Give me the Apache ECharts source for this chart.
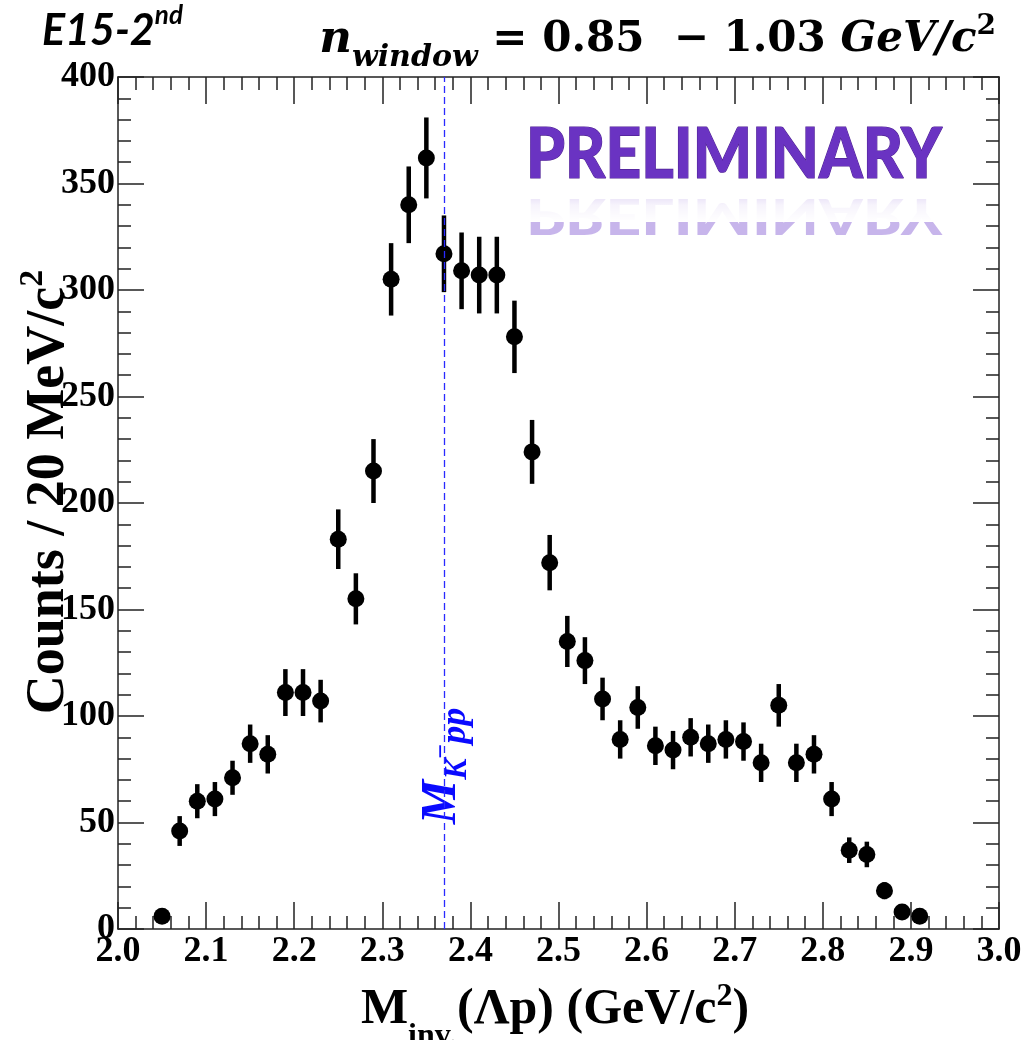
<!DOCTYPE html>
<html>
<head>
<meta charset="utf-8">
<script src="https://cdn.jsdelivr.net/npm/echarts@6/dist/echarts.min.js"></script>
<style>
html,body{margin:0;padding:0;background:#fff;}
#chart{width:1025px;height:1040px;}
</style>
</head>
<body>
<div id="chart"></div>
<script>
// ---- data ----
const binCenters = [2.05, 2.07, 2.09, 2.11, 2.13, 2.15, 2.17, 2.19, 2.21, 2.23,
                    2.25, 2.27, 2.29, 2.31, 2.33, 2.35, 2.37, 2.39, 2.41, 2.43,
                    2.45, 2.47, 2.49, 2.51, 2.53, 2.55, 2.57, 2.59, 2.61, 2.63,
                    2.65, 2.67, 2.69, 2.71, 2.73, 2.75, 2.77, 2.79, 2.81, 2.83,
                    2.85, 2.87, 2.89, 2.91];
const counts = [6, 46, 60, 61, 71, 87, 82, 111, 111, 107,
                183, 155, 215, 305, 340, 362, 317, 309, 307, 307,
                278, 224, 172, 135, 126, 108, 89, 104, 86, 84,
                90, 87, 89, 88, 78, 105, 78, 82, 61, 37,
                35, 18, 8, 6];
const errors = [2.5, 7, 8, 8, 8, 9, 9, 11, 11, 10,
                14, 12, 15, 17, 18, 19, 18, 18, 18, 18,
                17, 15, 13, 12, 11, 10, 9, 10, 9, 9,
                9, 9, 9, 9, 9, 10, 9, 9, 8, 6,
                6, 4, 3, 2.5];
const kppMass = 2.37;
const xRange = [2.0, 3.0];
const yRange = [0, 400];

const points = binCenters.map((x, i) => [x, counts[i]]);
const errData = binCenters.map((x, i) => [x, counts[i], errors[i]]);

const chart = echarts.init(document.getElementById('chart'), null, {renderer: 'canvas'});

const tickFont = {fontFamily: 'Liberation Serif', fontWeight: 'bold', fontSize: 36, color: '#000'};
const lineCol = '#222';

function xAx(pos, showLabel) {
  return {
    type: 'value', position: pos, min: xRange[0], max: xRange[1], interval: 0.1,
    axisLine: {show: true, onZero: false, lineStyle: {color: lineCol, width: 1.5}},
    axisTick: {show: true, inside: true, length: 27, lineStyle: {color: lineCol, width: 1.5}},
    minorTick: {show: true, splitNumber: 5, length: 13, lineStyle: {color: lineCol, width: 1.5}},
    splitLine: {show: false},
    axisLabel: showLabel ? Object.assign({show: true, margin: 5, formatter: v => v.toFixed(1)}, tickFont) : {show: false}
  };
}
function yAx(pos, showLabel) {
  return {
    type: 'value', position: pos, min: yRange[0], max: yRange[1], interval: 50,
    axisLine: {show: true, onZero: false, lineStyle: {color: lineCol, width: 1.5}},
    axisTick: {show: true, inside: true, length: 26, lineStyle: {color: lineCol, width: 1.5}},
    minorTick: {show: true, splitNumber: 5, length: 13, lineStyle: {color: lineCol, width: 1.5}},
    splitLine: {show: false},
    axisLabel: showLabel ? Object.assign({show: true, margin: 3}, tickFont) : {show: false}
  };
}

const purple = '#6a33c2';

const option = {
  backgroundColor: '#fff',
  animation: false,
  grid: {left: 118, right: 26, top: 77, bottom: 111, containLabel: false},
  xAxis: [xAx('bottom', true), xAx('top', false)],
  yAxis: [yAx('left', true), yAx('right', false)],
  series: [
    {
      type: 'custom',
      xAxisIndex: 0, yAxisIndex: 0,
      data: errData,
      renderItem: function (params, api) {
        const x = api.value(0), y = api.value(1), e = api.value(2);
        const p1 = api.coord([x, y - e]);
        const p2 = api.coord([x, y + e]);
        return {
          type: 'line',
          shape: {x1: p1[0], y1: p1[1], x2: p2[0], y2: p2[1]},
          style: {stroke: '#000', lineWidth: 4.5}
        };
      },
      z: 3
    },
    {
      type: 'scatter',
      xAxisIndex: 0, yAxisIndex: 0,
      data: points,
      symbol: 'circle',
      symbolSize: 17,
      itemStyle: {color: '#000', opacity: 1},
      z: 4,
      markLine: {
        silent: true,
        symbol: ['none', 'none'],
        label: {show: false},
        lineStyle: {color: '#2a2aff', width: 1.3, type: [7, 4], opacity: 1},
        data: [{xAxis: kppMass}]
      }
    }
  ],
  graphic: [
    // y-axis title
    {
      type: 'text', x: 46, y: 492, rotation: Math.PI / 2,
      style: {
        text: '{a|Counts / 20 MeV/c}{s|2}',
        align: 'center', verticalAlign: 'middle',
        rich: {
          a: {fontFamily: 'Liberation Serif', fontWeight: 'bold', fontSize: 54, fill: '#000', lineHeight: 60, verticalAlign: 'bottom'},
          s: {fontFamily: 'Liberation Serif', fontWeight: 'bold', fontSize: 34, fill: '#000', lineHeight: 60, verticalAlign: 'top'}
        }
      }
    },
    // x-axis title
    {
      type: 'text', x: 555, y: 1010,
      style: {
        text: '{a|M}{b|inv.}{a|(Λp) (GeV/c}{s|2}{a|)}',
        align: 'center', verticalAlign: 'middle',
        rich: {
          a: {fontFamily: 'Liberation Serif', fontWeight: 'bold', fontSize: 50, fill: '#000', lineHeight: 58, verticalAlign: 'middle'},
          b: {fontFamily: 'Liberation Serif', fontWeight: 'bold', fontSize: 32, fill: '#000', lineHeight: 58, verticalAlign: 'bottom', padding: [0, 0, -14, 0]},
          s: {fontFamily: 'Liberation Serif', fontWeight: 'bold', fontSize: 32, fill: '#000', lineHeight: 58, verticalAlign: 'top'}
        }
      }
    },
    // E15-2nd
    {
      type: 'text', x: 42, y: 28,
      style: {
        text: '{a|E15-2}{s|nd}',
        align: 'left', verticalAlign: 'middle',
        rich: {
          a: {fontFamily: 'Lato', fontStyle: 'italic', fontWeight: 'bold', fontSize: 43, fill: '#000', lineHeight: 50, verticalAlign: 'bottom'},
          s: {fontFamily: 'Lato', fontStyle: 'italic', fontWeight: 'bold', fontSize: 26, fill: '#000', lineHeight: 50, verticalAlign: 'top'}
        }
      }
    },
    // n_window formula
    {
      type: 'text', x: 996, y: 40,
      style: {
        text: '{n|n}{w|window}{t| = 0.85  − 1.03 }{g|GeV/c}{s|2}',
        align: 'right', verticalAlign: 'middle',
        rich: {
          n: {fontFamily: 'DejaVu Serif', fontStyle: 'italic', fontWeight: 'bold', fontSize: 45, fill: '#000', lineHeight: 54, verticalAlign: 'middle'},
          w: {fontFamily: 'DejaVu Serif', fontStyle: 'italic', fontWeight: 'bold', fontSize: 30, fill: '#000', lineHeight: 54, verticalAlign: 'bottom', padding: [0, 0, -6, 0]},
          t: {fontFamily: 'DejaVu Serif', fontWeight: 'bold', fontSize: 42, fill: '#000', lineHeight: 54, verticalAlign: 'middle'},
          g: {fontFamily: 'DejaVu Serif', fontStyle: 'italic', fontWeight: 'bold', fontSize: 42, fill: '#000', lineHeight: 54, verticalAlign: 'middle'},
          s: {fontFamily: 'DejaVu Serif', fontWeight: 'bold', fontSize: 28, fill: '#000', lineHeight: 54, verticalAlign: 'top'}
        }
      }
    },
    // PRELIMINARY reflection
    {
      type: 'text', x: 734, y: 190, scaleX: 0.89, scaleY: -0.7,
      style: {
        text: 'PRELIMINARY', align: 'center', verticalAlign: 'bottom',
        fontFamily: 'Lato', fontWeight: 900, fontSize: 70,
        fill: 'rgba(130,90,210,0.45)'
      }
    },
    // fade-out for the reflection
    {
      type: 'rect', shape: {x: 520, y: 180, width: 430, height: 42},
      style: {
        fill: new echarts.graphic.LinearGradient(0, 0, 0, 1, [
          {offset: 0, color: 'rgba(255,255,255,0.15)'},
          {offset: 0.6, color: 'rgba(255,255,255,0.85)'},
          {offset: 1, color: 'rgba(255,255,255,1)'}
        ])
      },
      silent: true
    },
    // PRELIMINARY
    {
      type: 'text', x: 734, y: 190, scaleX: 0.89,
      style: {
        text: 'PRELIMINARY', align: 'center', verticalAlign: 'bottom',
        fontFamily: 'Lato', fontWeight: 900, fontSize: 70,
        fill: purple, stroke: '#4f2393', lineWidth: 1.2
      }
    },
    // M_{K-pp} label
    {
      type: 'text', x: 442, y: 766, rotation: Math.PI / 2,
      style: {
        text: '{m|M}{k|K}{c|−}{p|pp}',
        align: 'center', verticalAlign: 'middle',
        rich: {
          m: {fontFamily: 'Liberation Serif', fontStyle: 'italic', fontWeight: 'bold', fontSize: 50, fill: '#0a0aff', lineHeight: 60, verticalAlign: 'middle'},
          k: {fontFamily: 'Liberation Serif', fontStyle: 'italic', fontWeight: 'bold', fontSize: 32, fill: '#0a0aff', lineHeight: 60, verticalAlign: 'bottom', padding: [0, 0, -2, 0]},
          c: {fontFamily: 'Liberation Serif', fontWeight: 'bold', fontSize: 26, fill: '#0a0aff', lineHeight: 60, verticalAlign: 'middle'},
          p: {fontFamily: 'Liberation Serif', fontStyle: 'italic', fontWeight: 'bold', fontSize: 36, fill: '#0a0aff', lineHeight: 60, verticalAlign: 'bottom', padding: [0, 0, -2, 0]}
        }
      }
    }
  ]
};
chart.setOption(option);
</script>
</body>
</html>
